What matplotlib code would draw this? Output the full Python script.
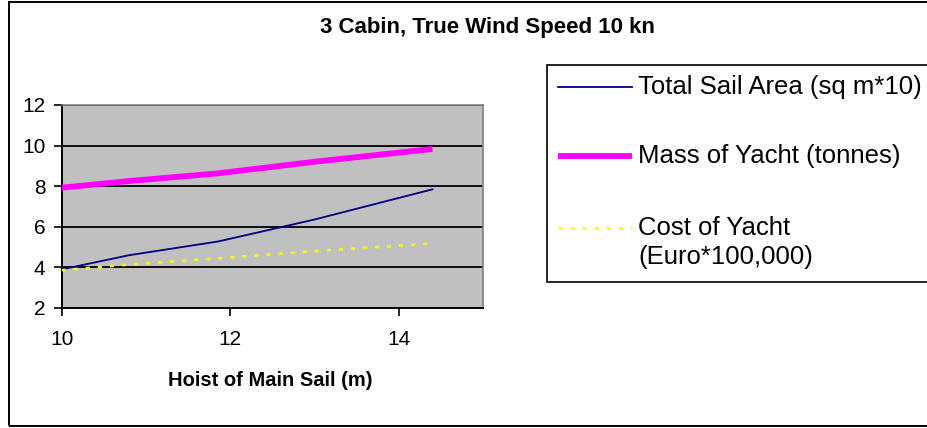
import matplotlib
matplotlib.use("Agg")
import matplotlib.pyplot as plt
from matplotlib.lines import Line2D
from matplotlib.patches import Rectangle

plt.rcParams['font.family'] = ['Liberation Sans', 'DejaVu Sans']
plt.rcParams['lines.scale_dashes'] = False

# Hoist of main sail (m)
hoist = [10.0, 10.8, 11.86, 13.0, 14.4]
# Series values
sail_area = [3.89, 4.59, 5.27, 6.35, 7.84]      # sq m * 10
yacht_mass = [7.92, 8.25, 8.63, 9.20, 9.83]     # tonnes
yacht_cost = [3.85, 4.13, 4.44, 4.79, 5.17]     # Euro * 100,000

series_labels = ["Total Sail Area (sq m*10)",
                 "Mass of Yacht (tonnes)",
                 "Cost of Yacht\n(Euro*100,000)"]
x_ticks = [10, 12, 14]
y_ticks = [2, 4, 6, 8, 10, 12]

W, H = 928, 428
DPI = 100
fig = plt.figure(figsize=(W / DPI, H / DPI), dpi=DPI)
fig.patch.set_facecolor('white')

def fx(px):
    return px / W

def fy(py):
    return 1 - py / H

# outer chart border
fig.patches.append(Rectangle((fx(9), fy(426)), fx(940) - fx(9), fy(2) - fy(426),
                             transform=fig.transFigure, fill=False,
                             edgecolor='black', linewidth=1.4, zorder=0))

ax = fig.add_axes([fx(61.7), fy(307.7), fx(483) - fx(61.7), fy(105) - fy(307.7)])
ax.set_facecolor('#C0C0C0')

styles = [
    dict(color='#000080', linewidth=1.3, linestyle='-'),
    dict(color='#FF00FF', linewidth=4.2, linestyle='-', solid_capstyle='butt'),
    dict(color='#FFFF00', linewidth=1.8, linestyle=(0, (2.9, 5.8)), dash_capstyle='butt'),
]

for vals, st in zip([sail_area, yacht_mass, yacht_cost], styles):
    ax.plot(hoist, vals, zorder=3, **st)

ax.set_xlim(10, 15)
ax.set_ylim(2, 12)
ax.set_xticks(x_ticks)
ax.set_yticks(y_ticks)
ax.tick_params(axis='both', direction='out', length=5.8, width=1.2, color='black',
               labelsize=15)
ax.tick_params(axis='y', pad=6)
ax.tick_params(axis='x', pad=10)
ax.yaxis.grid(True, color='black', linewidth=1.3, zorder=1)
ax.set_axisbelow(True)
for s in ['left', 'bottom']:
    ax.spines[s].set_color('black')
    ax.spines[s].set_linewidth(1.4)
for s in ['top', 'right']:
    ax.spines[s].set_color('#808080')
    ax.spines[s].set_linewidth(1.2)

fig.text(fx(270), fy(381), "Hoist of Main Sail (m)", ha='center', va='center',
         fontsize=14.5, fontweight='bold')

fig.text(fx(487), fy(27), "3 Cabin, True Wind Speed 10 kn", ha='center', va='center',
         fontsize=16, fontweight='bold')

# legend box
fig.patches.append(Rectangle((fx(547), fy(282)), fx(940) - fx(547), fy(65) - fy(282),
                             transform=fig.transFigure, fill=True, facecolor='white',
                             edgecolor='black', linewidth=1.2, zorder=1))
handle_y = [87, 156, 228]
for st, lab, hy in zip(styles, series_labels, handle_y):
    fig.lines.append(Line2D([fx(558), fx(632)], [fy(hy), fy(hy)],
                            transform=fig.transFigure, zorder=2, **st))
    for i, part in enumerate(lab.split('\n')):
        fig.text(fx(638), fy(hy + 29 * i), part, ha='left', va='center',
                 fontsize=18.5, zorder=3)

fig.savefig("out.png", dpi=DPI)
